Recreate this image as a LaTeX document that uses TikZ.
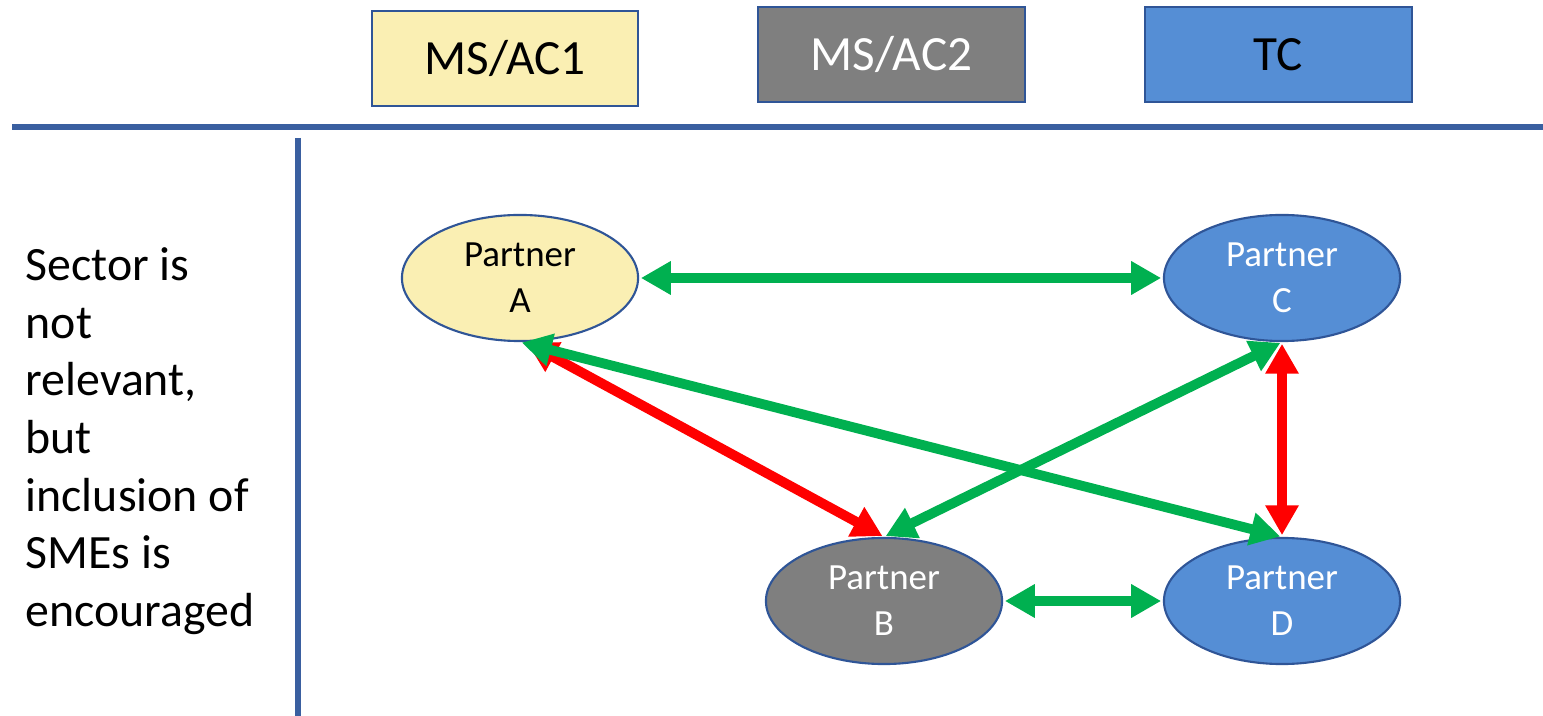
\documentclass[tikz,border=0pt]{standalone}
\usepackage{fontspec}
\setmainfont{Carlito}
\usetikzlibrary{arrows.meta,shapes.geometric}
\definecolor{frame}{HTML}{2F5597}
\definecolor{rulecol}{HTML}{3A5FA0}
\definecolor{yel}{HTML}{FAEFB3}
\definecolor{gry}{HTML}{7F7F7F}
\definecolor{blu}{HTML}{558ED5}
\definecolor{grn}{HTML}{00B050}
\definecolor{rd}{HTML}{FF0000}
\tikzset{
  hdr/.style={draw=frame, line width=0.6pt, minimum width=2.66cm, minimum height=0.95cm, inner sep=0pt, font=\fontsize{14}{17}\selectfont},
  partner/.style={ellipse, draw=frame, line width=0.6pt, minimum width=2.36cm, minimum height=1.26cm, inner sep=0pt, align=center, font=\fontsize{10.5}{13}\selectfont},
  link/.style={line width=2.8pt, {Triangle[length=8.5pt,width=9pt]}-{Triangle[length=8.5pt,width=9pt]}, shorten <=0.5pt, shorten >=0.5pt},
}
\begin{document}
\begin{tikzpicture}[x=0.01cm,y=-0.01cm]
\useasboundingbox (0,0) rectangle (1543,716);
\node[hdr, fill=yel] (ms1) at (505,58.5) {MS/AC1};
\node[hdr, fill=gry, text=white] (ms2) at (891.5,54.5) {MS/AC2};
\node[hdr, fill=blu] (tc) at (1278.5,54.5) {TC};
\coordinate (hl) at (12,127);
\coordinate (hr) at (1543,127);
\draw[rulecol, line width=1.5pt] (hl) -- (hr);
\coordinate (vt) at (298,138);
\coordinate (vb) at (298,716);
\draw[rulecol, line width=1.5pt] (vt) -- (vb);
\node[anchor=north west, align=left, font=\fontsize{13.6}{16.4}\selectfont, inner sep=0pt] (sector) at (25,247)
  {Sector is\\not\\relevant,\\but\\inclusion of\\SMEs is\\encouraged};
\node[partner, fill=yel] (A) at (520,278) {Partner\\A};
\node[partner, fill=blu, text=white] (C) at (1282,278) {Partner\\C};
\node[partner, fill=gry, text=white] (B) at (884,601) {Partner\\B};
\node[partner, fill=blu, text=white] (D) at (1282,601) {Partner\\D};
\draw[link, grn] (A.east) -- (C.west);
\draw[link, rd] (A.-85) -- (B.north);
\draw[link, grn] (A.south) -- (D.north);
\draw[link, grn] (B.north) -- (C.south);
\draw[link, rd] (C.south) -- (D.north);
\draw[link, grn] (B.east) -- (D.west);
\end{tikzpicture}
\end{document}
